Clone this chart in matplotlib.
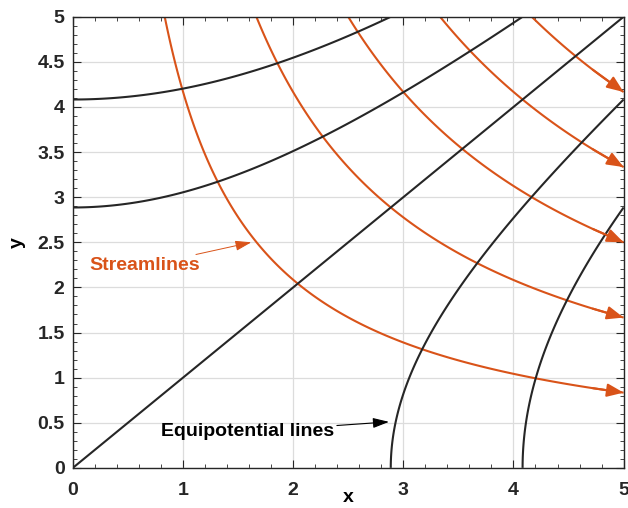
import numpy as np
import matplotlib
matplotlib.use('Agg')
import matplotlib.pyplot as plt
from matplotlib.ticker import MultipleLocator

# contour levels
stream_levels = [4.17, 8.33, 12.5, 16.67, 20.83]       # psi = x*y
potential_levels = [-16.67, -8.33, 0.0, 8.33, 16.67]   # phi = x^2 - y^2

orange = '#D95319'
dark = '#262626'

plt.rcParams['font.family'] = ['Liberation Sans', 'DejaVu Sans']

fig = plt.figure(figsize=(6.28, 5.08), dpi=100)
ax = fig.add_axes([0.116, 0.079, 0.877, 0.888])

g = np.linspace(0, 5, 600)
X, Y = np.meshgrid(g, g)
ax.contour(X, Y, X * Y, levels=stream_levels, colors=orange,
           linewidths=1.5, linestyles='solid')
ax.contour(X, Y, X**2 - Y**2, levels=potential_levels, colors=dark,
           linewidths=1.5, linestyles='solid')

# flow direction arrows at the right edge
for c in stream_levels:
    x0 = 4.72
    ax.annotate('', xy=(5.0, c / 5.0), xytext=(x0, c / x0),
                arrowprops=dict(arrowstyle='-|>,head_length=1.0,head_width=0.4',
                                color=orange, lw=1.5, shrinkA=0, shrinkB=0),
                annotation_clip=False)

ax.annotate('Streamlines', xy=(1.62, 2.5), xytext=(0.15, 2.24),
            color=orange, fontsize=14, fontweight='bold', va='center',
            arrowprops=dict(arrowstyle='-|>,head_length=0.7,head_width=0.22',
                            color=orange, lw=0.7, shrinkA=0, shrinkB=0))
ax.annotate('Equipotential lines', xy=(2.87, 0.51), xytext=(0.8, 0.4),
            color='black', fontsize=14, fontweight='bold', va='center',
            arrowprops=dict(arrowstyle='-|>,head_length=0.7,head_width=0.22',
                            color='black', lw=0.8, shrinkA=0, shrinkB=0))

ax.set_xlim(0, 5)
ax.set_ylim(0, 5)
ax.xaxis.set_major_locator(MultipleLocator(1))
ax.xaxis.set_minor_locator(MultipleLocator(0.2))
ax.yaxis.set_major_locator(MultipleLocator(0.5))
ax.yaxis.set_minor_locator(MultipleLocator(0.1))
ax.yaxis.set_major_formatter(plt.FuncFormatter(lambda v, p: f'{v:g}'))
ax.grid(True, which='major', color='#dcdcdc', lw=0.9)
ax.set_axisbelow(True)
ax.tick_params(which='both', direction='in', top=True, right=True, colors='#262626',
               labelsize=14)
ax.tick_params(which='major', length=6)
ax.tick_params(which='minor', length=3)
ax.tick_params(axis='x', which='major', pad=10)
ax.tick_params(axis='y', which='major', pad=6)
for lab in ax.get_xticklabels() + ax.get_yticklabels():
    lab.set_fontweight('bold')
for s in ax.spines.values():
    s.set_color('#262626')
    s.set_linewidth(1.0)
ax.set_xlabel('x', fontsize=14, fontweight='bold', labelpad=-7)
ax.set_ylabel('y', fontsize=14, fontweight='bold', labelpad=8)

fig.savefig('out.png', dpi=100)
